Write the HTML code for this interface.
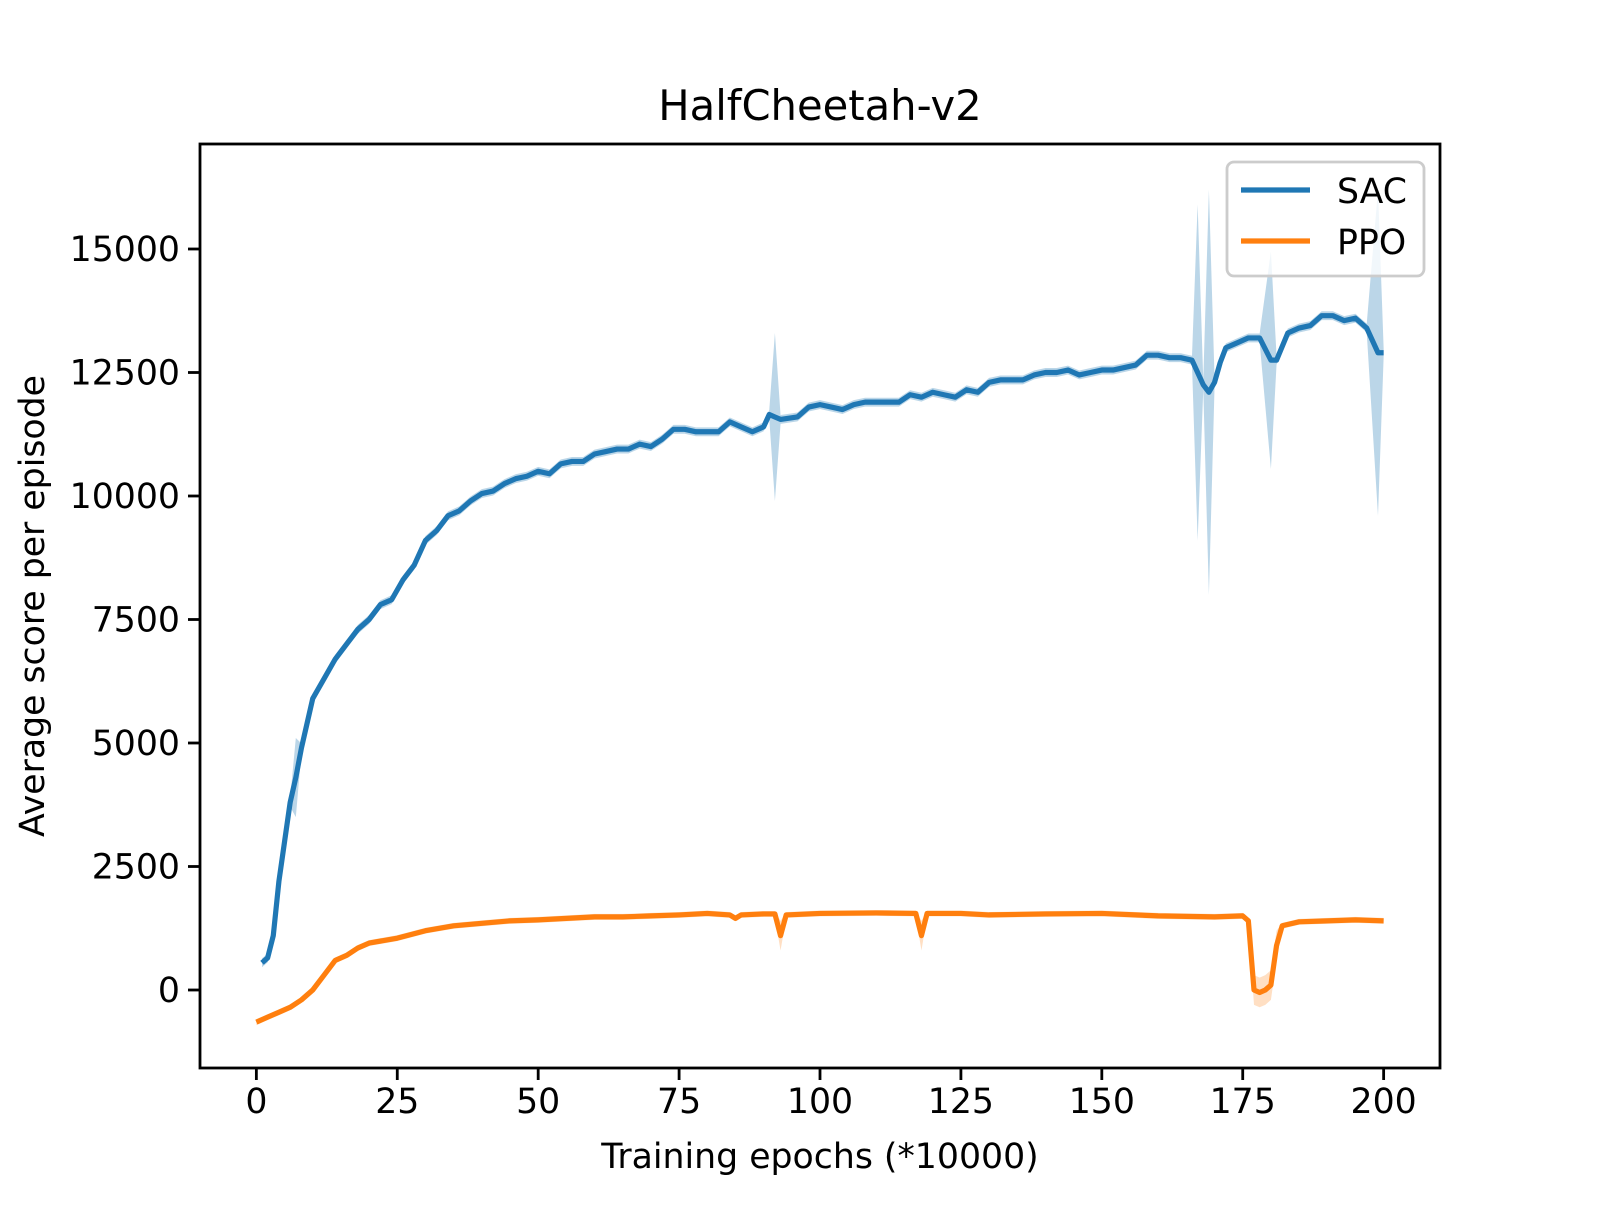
<!DOCTYPE html>
<html><head><meta charset="utf-8"><style>
html,body{margin:0;padding:0;background:#fff}
svg text{font-family:"DejaVu Sans","Liberation Sans",sans-serif;fill:#000}
</style></head><body>
<svg id="chart" width="1600" height="1200" viewBox="0 0 1600 1200" xmlns="http://www.w3.org/2000/svg">
<rect width="1600" height="1200" fill="#fff"/>
<text x="820" y="120" font-size="41.7" text-anchor="middle">HalfCheetah-v2</text>
<g id="bands"></g><g id="lines"></g><g id="ticks"></g>
<rect x="200" y="144" width="1240" height="924" fill="none" stroke="#000" stroke-width="2.8"/>
<text x="820" y="1168" font-size="34.7" text-anchor="middle">Training epochs (*10000)</text>
<text transform="translate(44,606) rotate(-90)" font-size="34.7" text-anchor="middle">Average score per episode</text>
<g>
<rect x="1227" y="162" width="197" height="114" rx="7" fill="#fff" fill-opacity="0.8" stroke="#ccc" stroke-width="2.8"/>
<line x1="1241" y1="190" x2="1310" y2="190" stroke="#1f77b4" stroke-width="5.2"/>
<text x="1337" y="203" font-size="34.7">SAC</text>
<line x1="1241" y1="241" x2="1310" y2="241" stroke="#ff7f0e" stroke-width="5.2"/>
<text x="1337" y="254" font-size="34.7">PPO</text>
</g>
</svg>
<script>
const sacX=[1,2,3,4,5,6,7,8,9,10,12,14,16,18,20,22,24,26,28,30,32,34,36,38,40,42,44,46,48,50,52,54,56,58,60,62,64,66,68,70,72,74,76,78,80,82,84,86,88,90,91,92,93,96,98,100,102,104,106,108,110,112,114,116,118,120,122,124,126,128,130,132,134,136,138,140,142,144,146,148,150,152,154,156,158,160,162,164,166,167,168,169,170,171,172,174,176,178,180,181,183,185,187,189,191,193,195,197,199,200];
const sacY=[550,650,1100,2200,3000,3800,4300,4900,5400,5900,6300,6700,7000,7300,7500,7800,7900,8300,8600,9100,9300,9600,9700,9900,10050,10100,10250,10350,10400,10500,10450,10650,10700,10700,10850,10900,10950,10950,11050,11000,11150,11350,11350,11300,11300,11300,11500,11400,11300,11400,11650,11600,11550,11600,11800,11850,11800,11750,11850,11900,11900,11900,11900,12050,12000,12100,12050,12000,12150,12100,12300,12350,12350,12350,12450,12500,12500,12550,12450,12500,12550,12550,12600,12650,12850,12850,12800,12800,12750,12500,12250,12100,12300,12700,13000,13100,13200,13200,12750,12750,13300,13400,13450,13650,13650,13550,13600,13400,12900,12900];
const sacSdX=[7,92,167,169,180,199];
const sacSdV=[800,1700,3400,4100,2200,3300];
const ppoX=[0,2,4,6,8,10,12,14,16,18,20,25,30,35,40,45,50,55,60,65,70,75,80,84,85,86,90,92,93,94,100,110,117,118,119,125,130,140,150,160,170,175,176,177,178,179,180,181,182,185,190,195,200];
const ppoY=[-650,-550,-450,-350,-200,0,300,600,700,850,950,1050,1200,1300,1350,1400,1420,1450,1480,1480,1500,1520,1550,1520,1450,1520,1540,1540,1100,1520,1550,1560,1550,1100,1550,1550,1520,1540,1550,1500,1480,1500,1400,0,-50,0,100,900,1300,1380,1400,1420,1400];
const xTicks=[0,25,50,75,100,125,150,175,200];
const yTicks=[0,2500,5000,7500,10000,12500,15000];
const NS="http://www.w3.org/2000/svg";
const X=v=>200+(v+10)/220*1240;
const Y=v=>990-v/2500*123.5;
function mk(t,a,p){const e=document.createElementNS(NS,t);for(const k in a)e.setAttribute(k,a[k]);p.appendChild(e);return e;}
function sd(x){let s=90;sacSdX.forEach((px,i)=>{if(px===x)s=Math.max(s,sacSdV[i]);});return s;}
const bands=document.getElementById('bands'),lines=document.getElementById('lines'),ticks=document.getElementById('ticks');
let up=[],dn=[];
sacX.forEach((x,i)=>{const s=sd(x);up.push(X(x)+','+Y(sacY[i]+s));dn.unshift(X(x)+','+Y(sacY[i]-s));});
const b1=mk('polygon',{points:up.concat(dn).join(' '),fill:'#1f77b4','fill-opacity':0.3},bands);


up=[];dn=[];
ppoX.forEach((x,i)=>{const s=(ppoY[i]<1200&&x>90)?300:60;up.push(X(x)+','+Y(ppoY[i]+s));dn.unshift(X(x)+','+Y(ppoY[i]-s));});
const b2=mk('polygon',{points:up.concat(dn).join(' '),fill:'#ff7f0e','fill-opacity':0.25},bands);


const l1=mk('polyline',{points:sacX.map((x,i)=>X(x)+','+Y(sacY[i])).join(' '),fill:'none',stroke:'#1f77b4','stroke-width':5.2,'stroke-linejoin':'round'},lines);


const l2=mk('polyline',{points:ppoX.map((x,i)=>X(x)+','+Y(ppoY[i])).join(' '),fill:'none',stroke:'#ff7f0e','stroke-width':5.2,'stroke-linejoin':'round'},lines);


xTicks.forEach(v=>{const g=mk('g',{},ticks);


mk('line',{x1:X(v),x2:X(v),y1:1068,y2:1080,stroke:'#000','stroke-width':2.8},g);
const t=mk('text',{x:X(v),y:1113,'font-size':34.7,'text-anchor':'middle'},g);t.textContent=v;});
yTicks.forEach(v=>{const g=mk('g',{},ticks);


mk('line',{x1:188,x2:200,y1:Y(v),y2:Y(v),stroke:'#000','stroke-width':2.8},g);
const t=mk('text',{x:180,y:Y(v)+12,'font-size':34.7,'text-anchor':'end'},g);t.textContent=v;});
</script>
</body></html>
